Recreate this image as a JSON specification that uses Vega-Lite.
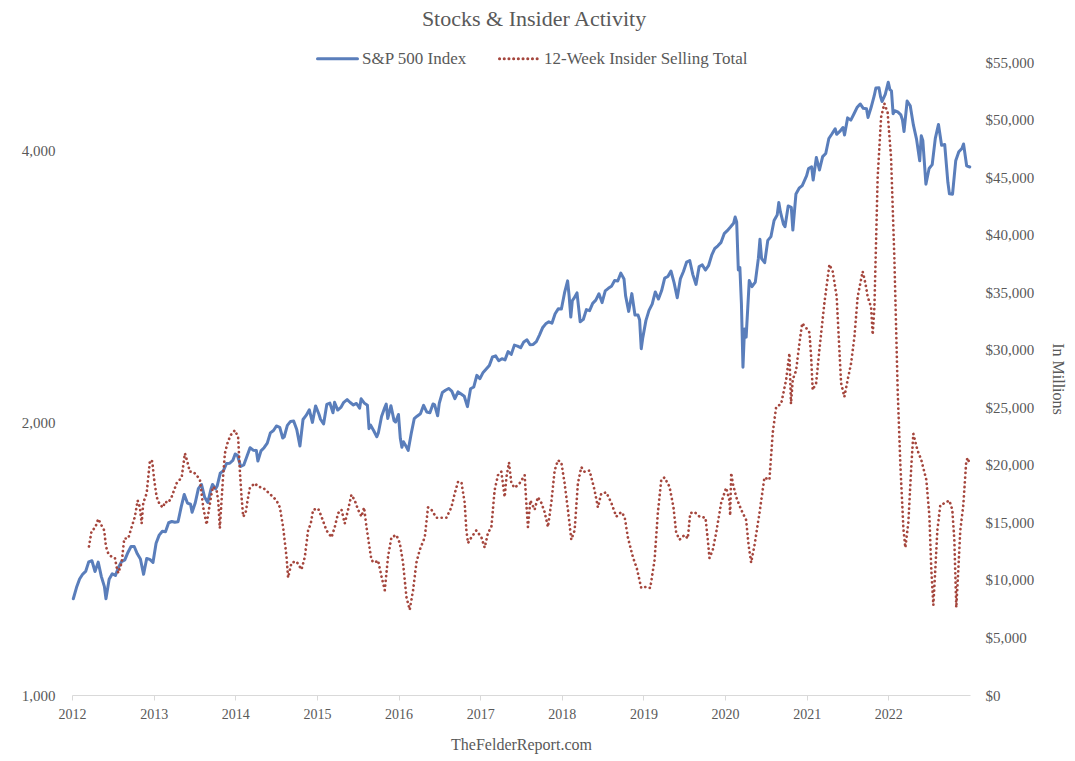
{
  "$schema": "https://vega.github.io/schema/vega-lite/v6.json",
  "width": 898,
  "height": 633,
  "autosize": {"type": "none"},
  "padding": {"left": 72, "top": 62, "right": 105, "bottom": 66},
  "background": "white",
  "config": {
    "font": "Liberation Serif",
    "view": {"stroke": null},
    "axis": {"grid": false, "labelColor": "#595959", "titleColor": "#595959", "labelFont": "Liberation Serif", "titleFont": "Liberation Serif", "titleFontWeight": "normal"}
  },
  "title": {"text": "Stocks & Insider Activity", "font": "Liberation Serif", "fontSize": 22, "fontWeight": "normal", "color": "#595959", "anchor": "middle", "frame": "group", "dx": 13, "offset": 6},
  "datasets": {
    "sp": [
      {"year":2012.016,"sp500":1278},{"year":2012.055,"sp500":1315},{"year":2012.093,"sp500":1344},{"year":2012.132,"sp500":1361},{"year":2012.167,"sp500":1370},{"year":2012.205,"sp500":1404},{"year":2012.244,"sp500":1408},{"year":2012.282,"sp500":1370},{"year":2012.321,"sp500":1403},{"year":2012.359,"sp500":1353},{"year":2012.397,"sp500":1318},{"year":2012.416,"sp500":1278},{"year":2012.455,"sp500":1343},{"year":2012.493,"sp500":1362},{"year":2012.532,"sp500":1356},{"year":2012.570,"sp500":1385},{"year":2012.608,"sp500":1405},{"year":2012.647,"sp500":1411},{"year":2012.685,"sp500":1438},{"year":2012.723,"sp500":1460},{"year":2012.762,"sp500":1460},{"year":2012.800,"sp500":1433},{"year":2012.838,"sp500":1414},{"year":2012.877,"sp500":1360},{"year":2012.915,"sp500":1416},{"year":2012.953,"sp500":1413},{"year":2012.992,"sp500":1402},
      {"year":2013.030,"sp500":1472},{"year":2013.068,"sp500":1503},{"year":2013.107,"sp500":1518},{"year":2013.145,"sp500":1516},{"year":2013.184,"sp500":1551},{"year":2013.222,"sp500":1556},{"year":2013.260,"sp500":1553},{"year":2013.299,"sp500":1555},{"year":2013.337,"sp500":1614},{"year":2013.375,"sp500":1667},{"year":2013.414,"sp500":1631},{"year":2013.452,"sp500":1626},{"year":2013.471,"sp500":1593},{"year":2013.510,"sp500":1632},{"year":2013.548,"sp500":1692},{"year":2013.586,"sp500":1710},{"year":2013.625,"sp500":1655},{"year":2013.663,"sp500":1633},{"year":2013.701,"sp500":1688},{"year":2013.721,"sp500":1710},{"year":2013.759,"sp500":1691},{"year":2013.778,"sp500":1703},{"year":2013.816,"sp500":1760},{"year":2013.855,"sp500":1771},{"year":2013.893,"sp500":1804},{"year":2013.932,"sp500":1805},{"year":2013.970,"sp500":1818},{"year":2013.999,"sp500":1848},
      {"year":2014.027,"sp500":1842},{"year":2014.066,"sp500":1790},{"year":2014.104,"sp500":1797},{"year":2014.142,"sp500":1836},{"year":2014.181,"sp500":1878},{"year":2014.219,"sp500":1866},{"year":2014.258,"sp500":1865},{"year":2014.277,"sp500":1815},{"year":2014.315,"sp500":1863},{"year":2014.353,"sp500":1878},{"year":2014.392,"sp500":1900},{"year":2014.430,"sp500":1950},{"year":2014.468,"sp500":1962},{"year":2014.504,"sp500":1985},{"year":2014.545,"sp500":1978},{"year":2014.581,"sp500":1925},{"year":2014.600,"sp500":1931},{"year":2014.638,"sp500":1988},{"year":2014.677,"sp500":2008},{"year":2014.715,"sp500":2010},{"year":2014.753,"sp500":1967},{"year":2014.792,"sp500":1886},{"year":2014.830,"sp500":2018},{"year":2014.868,"sp500":2039},{"year":2014.907,"sp500":2068},{"year":2014.945,"sp500":2003},{"year":2014.984,"sp500":2089},
      {"year":2015.025,"sp500":2045},{"year":2015.044,"sp500":2019},{"year":2015.082,"sp500":1995},{"year":2015.121,"sp500":2097},{"year":2015.159,"sp500":2104},{"year":2015.197,"sp500":2053},{"year":2015.216,"sp500":2108},{"year":2015.255,"sp500":2067},{"year":2015.293,"sp500":2081},{"year":2015.329,"sp500":2108},{"year":2015.370,"sp500":2123},{"year":2015.408,"sp500":2107},{"year":2015.447,"sp500":2094},{"year":2015.485,"sp500":2102},{"year":2015.523,"sp500":2077},{"year":2015.542,"sp500":2127},{"year":2015.581,"sp500":2104},{"year":2015.619,"sp500":2092},{"year":2015.638,"sp500":1971},{"year":2015.658,"sp500":1989},{"year":2015.696,"sp500":1961},{"year":2015.734,"sp500":1931},{"year":2015.753,"sp500":1951},{"year":2015.792,"sp500":2033},{"year":2015.830,"sp500":2079},{"year":2015.849,"sp500":2099},{"year":2015.868,"sp500":2023},{"year":2015.907,"sp500":2090},{"year":2015.945,"sp500":2012},{"year":2015.964,"sp500":2005},{"year":2015.999,"sp500":2044},
      {"year":2016.022,"sp500":1922},{"year":2016.041,"sp500":1880},{"year":2016.060,"sp500":1907},{"year":2016.099,"sp500":1880},{"year":2016.118,"sp500":1865},{"year":2016.156,"sp500":1948},{"year":2016.192,"sp500":2022},{"year":2016.227,"sp500":2035},{"year":2016.268,"sp500":2048},{"year":2016.307,"sp500":2092},{"year":2016.345,"sp500":2057},{"year":2016.384,"sp500":2053},{"year":2016.422,"sp500":2099},{"year":2016.441,"sp500":2096},{"year":2016.479,"sp500":2037},{"year":2016.499,"sp500":2103},{"year":2016.537,"sp500":2162},{"year":2016.575,"sp500":2174},{"year":2016.614,"sp500":2184},{"year":2016.652,"sp500":2169},{"year":2016.690,"sp500":2128},{"year":2016.729,"sp500":2165},{"year":2016.767,"sp500":2153},{"year":2016.805,"sp500":2141},{"year":2016.844,"sp500":2085},{"year":2016.882,"sp500":2182},{"year":2016.921,"sp500":2192},{"year":2016.959,"sp500":2258},{"year":2016.997,"sp500":2239},
      {"year":2017.036,"sp500":2275},{"year":2017.074,"sp500":2295},{"year":2017.112,"sp500":2316},{"year":2017.151,"sp500":2367},{"year":2017.189,"sp500":2373},{"year":2017.227,"sp500":2344},{"year":2017.266,"sp500":2356},{"year":2017.304,"sp500":2349},{"year":2017.342,"sp500":2399},{"year":2017.381,"sp500":2382},{"year":2017.419,"sp500":2439},{"year":2017.458,"sp500":2433},{"year":2017.496,"sp500":2423},{"year":2017.534,"sp500":2459},{"year":2017.573,"sp500":2472},{"year":2017.611,"sp500":2441},{"year":2017.649,"sp500":2443},{"year":2017.688,"sp500":2461},{"year":2017.726,"sp500":2502},{"year":2017.764,"sp500":2549},{"year":2017.803,"sp500":2575},{"year":2017.841,"sp500":2588},{"year":2017.879,"sp500":2579},{"year":2017.918,"sp500":2642},{"year":2017.956,"sp500":2675},{"year":2017.995,"sp500":2674},
      {"year":2018.033,"sp500":2786},{"year":2018.071,"sp500":2873},{"year":2018.090,"sp500":2762},{"year":2018.110,"sp500":2620},{"year":2018.129,"sp500":2732},{"year":2018.148,"sp500":2747},{"year":2018.186,"sp500":2786},{"year":2018.225,"sp500":2588},{"year":2018.263,"sp500":2604},{"year":2018.301,"sp500":2670},{"year":2018.340,"sp500":2663},{"year":2018.378,"sp500":2713},{"year":2018.416,"sp500":2735},{"year":2018.455,"sp500":2780},{"year":2018.493,"sp500":2718},{"year":2018.532,"sp500":2801},{"year":2018.570,"sp500":2819},{"year":2018.608,"sp500":2833},{"year":2018.647,"sp500":2875},{"year":2018.685,"sp500":2872},{"year":2018.723,"sp500":2930},{"year":2018.762,"sp500":2886},{"year":2018.781,"sp500":2767},{"year":2018.819,"sp500":2658},{"year":2018.858,"sp500":2781},{"year":2018.896,"sp500":2633},{"year":2018.934,"sp500":2633},{"year":2018.953,"sp500":2600},{"year":2018.973,"sp500":2417},{"year":2018.992,"sp500":2486},
      {"year":2019.030,"sp500":2596},{"year":2019.068,"sp500":2665},{"year":2019.107,"sp500":2708},{"year":2019.145,"sp500":2793},{"year":2019.184,"sp500":2743},{"year":2019.222,"sp500":2801},{"year":2019.260,"sp500":2893},{"year":2019.299,"sp500":2905},{"year":2019.337,"sp500":2946},{"year":2019.375,"sp500":2860},{"year":2019.414,"sp500":2752},{"year":2019.452,"sp500":2887},{"year":2019.490,"sp500":2942},{"year":2019.529,"sp500":3014},{"year":2019.567,"sp500":3026},{"year":2019.605,"sp500":2919},{"year":2019.644,"sp500":2847},{"year":2019.682,"sp500":2979},{"year":2019.721,"sp500":2992},{"year":2019.759,"sp500":2953},{"year":2019.797,"sp500":2986},{"year":2019.836,"sp500":3067},{"year":2019.874,"sp500":3120},{"year":2019.912,"sp500":3141},{"year":2019.951,"sp500":3169},{"year":2019.989,"sp500":3240},
      {"year":2020.027,"sp500":3265},{"year":2020.066,"sp500":3295},{"year":2020.104,"sp500":3327},{"year":2020.123,"sp500":3380},{"year":2020.142,"sp500":3338},{"year":2020.162,"sp500":2954},{"year":2020.181,"sp500":2972},{"year":2020.200,"sp500":2711},{"year":2020.219,"sp500":2305},{"year":2020.238,"sp500":2541},{"year":2020.258,"sp500":2489},{"year":2020.296,"sp500":2875},{"year":2020.329,"sp500":2831},{"year":2020.370,"sp500":2864},{"year":2020.408,"sp500":3044},{"year":2020.427,"sp500":3194},{"year":2020.447,"sp500":3041},{"year":2020.485,"sp500":3009},{"year":2020.523,"sp500":3185},{"year":2020.562,"sp500":3216},{"year":2020.600,"sp500":3351},{"year":2020.638,"sp500":3397},{"year":2020.658,"sp500":3508},{"year":2020.677,"sp500":3427},{"year":2020.715,"sp500":3319},{"year":2020.734,"sp500":3298},{"year":2020.773,"sp500":3477},{"year":2020.811,"sp500":3465},{"year":2020.830,"sp500":3270},{"year":2020.868,"sp500":3585},{"year":2020.907,"sp500":3638},{"year":2020.945,"sp500":3663},{"year":2020.999,"sp500":3756},
      {"year":2021.022,"sp500":3825},{"year":2021.060,"sp500":3841},{"year":2021.079,"sp500":3714},{"year":2021.118,"sp500":3934},{"year":2021.156,"sp500":3811},{"year":2021.195,"sp500":3943},{"year":2021.233,"sp500":3975},{"year":2021.271,"sp500":4129},{"year":2021.310,"sp500":4180},{"year":2021.348,"sp500":4233},{"year":2021.367,"sp500":4174},{"year":2021.405,"sp500":4204},{"year":2021.444,"sp500":4247},{"year":2021.463,"sp500":4166},{"year":2021.501,"sp500":4352},{"year":2021.540,"sp500":4327},{"year":2021.578,"sp500":4395},{"year":2021.616,"sp500":4468},{"year":2021.655,"sp500":4509},{"year":2021.693,"sp500":4459},{"year":2021.732,"sp500":4455},{"year":2021.751,"sp500":4357},{"year":2021.789,"sp500":4471},{"year":2021.827,"sp500":4605},{"year":2021.847,"sp500":4697},{"year":2021.885,"sp500":4698},{"year":2021.904,"sp500":4595},{"year":2021.923,"sp500":4538},{"year":2021.962,"sp500":4620},{"year":2021.999,"sp500":4766},
      {"year":2022.019,"sp500":4677},{"year":2022.038,"sp500":4662},{"year":2022.058,"sp500":4398},{"year":2022.077,"sp500":4432},{"year":2022.115,"sp500":4419},{"year":2022.153,"sp500":4385},{"year":2022.173,"sp500":4329},{"year":2022.192,"sp500":4204},{"year":2022.230,"sp500":4543},{"year":2022.268,"sp500":4488},{"year":2022.307,"sp500":4272},{"year":2022.345,"sp500":4123},{"year":2022.384,"sp500":3901},{"year":2022.403,"sp500":4158},{"year":2022.422,"sp500":4109},{"year":2022.460,"sp500":3675},{"year":2022.499,"sp500":3825},{"year":2022.537,"sp500":3863},{"year":2022.575,"sp500":4130},{"year":2022.614,"sp500":4280},{"year":2022.652,"sp500":4058},{"year":2022.690,"sp500":4067},{"year":2022.729,"sp500":3693},{"year":2022.748,"sp500":3586},{"year":2022.786,"sp500":3583},{"year":2022.825,"sp500":3901},{"year":2022.863,"sp500":3993},{"year":2022.901,"sp500":4026},{"year":2022.921,"sp500":4072},{"year":2022.959,"sp500":3852},{"year":2022.997,"sp500":3840}
    ],
    "ins": [
      {"year":2012.208,"selling":12900},{"year":2012.241,"selling":14300},{"year":2012.282,"selling":14500},{"year":2012.322,"selling":15300},{"year":2012.364,"selling":14700},{"year":2012.395,"selling":14300},{"year":2012.416,"selling":12900},{"year":2012.444,"selling":12300},{"year":2012.486,"selling":12000},{"year":2012.526,"selling":11900},{"year":2012.547,"selling":11100},{"year":2012.567,"selling":10600},{"year":2012.608,"selling":11500},{"year":2012.640,"selling":13600},{"year":2012.689,"selling":13600},{"year":2012.731,"selling":14600},{"year":2012.771,"selling":15500},{"year":2012.804,"selling":16900},{"year":2012.832,"selling":16300},{"year":2012.853,"selling":14900},{"year":2012.873,"selling":16700},{"year":2012.914,"selling":17500},{"year":2012.955,"selling":20400},{"year":2012.983,"selling":20300},
      {"year":2013.007,"selling":18700},{"year":2013.037,"selling":17200},{"year":2013.077,"selling":16500},{"year":2013.117,"selling":16300},{"year":2013.138,"selling":16800},{"year":2013.179,"selling":16700},{"year":2013.220,"selling":17200},{"year":2013.282,"selling":18400},{"year":2013.343,"selling":18900},{"year":2013.383,"selling":21000},{"year":2013.408,"selling":20400},{"year":2013.444,"selling":19400},{"year":2013.485,"selling":19400},{"year":2013.526,"selling":19100},{"year":2013.567,"selling":18700},{"year":2013.588,"selling":17500},{"year":2013.607,"selling":16300},{"year":2013.649,"selling":14800},{"year":2013.677,"selling":16100},{"year":2013.710,"selling":17500},{"year":2013.729,"selling":18100},{"year":2013.771,"selling":17800},{"year":2013.791,"selling":16900},{"year":2013.811,"selling":14500},{"year":2013.832,"selling":16900},{"year":2013.852,"selling":19100},{"year":2013.873,"selling":21000},{"year":2013.909,"selling":22000},{"year":2013.946,"selling":22600},{"year":2013.995,"selling":23000},
      {"year":2014.035,"selling":22400},{"year":2014.056,"selling":19500},{"year":2014.077,"selling":17200},{"year":2014.097,"selling":15500},{"year":2014.126,"selling":15800},{"year":2014.158,"selling":17200},{"year":2014.179,"selling":18000},{"year":2014.240,"selling":18400},{"year":2014.280,"selling":18100},{"year":2014.342,"selling":18000},{"year":2014.403,"selling":17600},{"year":2014.464,"selling":17200},{"year":2014.505,"selling":16900},{"year":2014.546,"selling":16300},{"year":2014.586,"selling":14600},{"year":2014.628,"selling":12000},{"year":2014.647,"selling":10200},{"year":2014.689,"selling":11500},{"year":2014.750,"selling":11600},{"year":2014.811,"selling":10900},{"year":2014.852,"selling":12000},{"year":2014.892,"selling":14300},{"year":2014.925,"selling":14900},{"year":2014.954,"selling":16100},
      {"year":2015.015,"selling":16200},{"year":2015.056,"selling":15500},{"year":2015.117,"selling":14300},{"year":2015.179,"selling":13700},{"year":2015.219,"selling":14600},{"year":2015.260,"selling":15800},{"year":2015.301,"selling":16100},{"year":2015.341,"selling":14900},{"year":2015.382,"selling":16100},{"year":2015.423,"selling":17400},{"year":2015.464,"selling":16900},{"year":2015.504,"selling":16100},{"year":2015.546,"selling":15500},{"year":2015.578,"selling":16300},{"year":2015.607,"selling":14600},{"year":2015.668,"selling":11700},{"year":2015.709,"selling":11500},{"year":2015.749,"selling":11700},{"year":2015.791,"selling":10300},{"year":2015.831,"selling":9100},{"year":2015.871,"selling":12000},{"year":2015.913,"selling":13700},{"year":2015.974,"selling":13900},
      {"year":2016.015,"selling":13200},{"year":2016.055,"selling":11500},{"year":2016.097,"selling":8500},{"year":2016.137,"selling":7400},{"year":2016.178,"selling":9100},{"year":2016.219,"selling":11500},{"year":2016.259,"selling":12600},{"year":2016.321,"selling":13700},{"year":2016.361,"selling":16300},{"year":2016.403,"selling":16100},{"year":2016.464,"selling":15400},{"year":2016.586,"selling":15400},{"year":2016.647,"selling":16300},{"year":2016.688,"selling":17500},{"year":2016.728,"selling":18500},{"year":2016.770,"selling":18500},{"year":2016.810,"selling":16700},{"year":2016.831,"selling":14300},{"year":2016.851,"selling":13200},{"year":2016.892,"selling":13700},{"year":2016.953,"selling":14300},
      {"year":2017.015,"selling":13700},{"year":2017.055,"selling":12800},{"year":2017.096,"selling":14100},{"year":2017.137,"selling":14600},{"year":2017.177,"selling":17800},{"year":2017.218,"selling":19100},{"year":2017.259,"selling":19400},{"year":2017.300,"selling":17200},{"year":2017.321,"selling":18900},{"year":2017.353,"selling":20200},{"year":2017.382,"selling":18400},{"year":2017.422,"selling":18000},{"year":2017.483,"selling":18400},{"year":2017.545,"selling":19100},{"year":2017.565,"selling":16700},{"year":2017.585,"selling":14600},{"year":2017.614,"selling":16900},{"year":2017.667,"selling":16100},{"year":2017.707,"selling":17200},{"year":2017.749,"selling":16700},{"year":2017.789,"selling":15900},{"year":2017.830,"selling":14600},{"year":2017.871,"selling":16700},{"year":2017.912,"selling":19500},{"year":2017.952,"selling":20400},{"year":2017.994,"selling":20200},
      {"year":2018.034,"selling":18400},{"year":2018.075,"selling":16100},{"year":2018.116,"selling":13500},{"year":2018.157,"selling":14300},{"year":2018.197,"selling":18400},{"year":2018.239,"selling":19800},{"year":2018.279,"selling":19400},{"year":2018.340,"selling":19500},{"year":2018.401,"selling":17800},{"year":2018.442,"selling":16300},{"year":2018.483,"selling":17500},{"year":2018.545,"selling":17600},{"year":2018.606,"selling":16700},{"year":2018.667,"selling":15500},{"year":2018.728,"selling":15900},{"year":2018.769,"selling":15500},{"year":2018.809,"selling":13700},{"year":2018.870,"selling":12000},{"year":2018.919,"selling":11000},{"year":2018.973,"selling":9300},
      {"year":2019.034,"selling":9400},{"year":2019.083,"selling":9300},{"year":2019.136,"selling":11700},{"year":2019.176,"selling":15800},{"year":2019.218,"selling":18700},{"year":2019.258,"selling":18900},{"year":2019.319,"selling":18100},{"year":2019.368,"selling":16300},{"year":2019.401,"selling":14100},{"year":2019.442,"selling":13500},{"year":2019.503,"selling":13900},{"year":2019.543,"selling":13600},{"year":2019.573,"selling":15800},{"year":2019.625,"selling":15900},{"year":2019.687,"selling":15500},{"year":2019.760,"selling":15400},{"year":2019.788,"selling":13500},{"year":2019.809,"selling":11900},{"year":2019.849,"selling":12600},{"year":2019.891,"selling":14100},{"year":2019.952,"selling":16700},
      {"year":2020.013,"selling":18000},{"year":2020.054,"selling":16900},{"year":2020.062,"selling":15600},{"year":2020.075,"selling":19300},{"year":2020.094,"selling":18400},{"year":2020.136,"selling":17200},{"year":2020.197,"selling":16100},{"year":2020.258,"selling":15200},{"year":2020.290,"selling":12900},{"year":2020.319,"selling":11500},{"year":2020.360,"selling":13000},{"year":2020.421,"selling":15800},{"year":2020.482,"selling":18900},{"year":2020.543,"selling":18700},{"year":2020.584,"selling":22800},{"year":2020.625,"selling":25000},{"year":2020.687,"selling":25300},{"year":2020.748,"selling":27400},{"year":2020.788,"selling":29700},{"year":2020.807,"selling":25300},{"year":2020.829,"selling":27400},{"year":2020.870,"selling":28200},{"year":2020.911,"selling":30600},{"year":2020.944,"selling":32300},{"year":2020.993,"selling":31900},
      {"year":2021.033,"selling":31500},{"year":2021.054,"selling":29400},{"year":2021.073,"selling":26500},{"year":2021.115,"selling":27100},{"year":2021.155,"selling":30000},{"year":2021.217,"selling":34100},{"year":2021.278,"selling":37400},{"year":2021.318,"selling":36800},{"year":2021.367,"selling":34600},{"year":2021.392,"selling":31100},{"year":2021.421,"selling":27100},{"year":2021.461,"selling":25900},{"year":2021.502,"selling":27400},{"year":2021.543,"selling":28800},{"year":2021.584,"selling":31100},{"year":2021.624,"selling":34600},{"year":2021.685,"selling":36800},{"year":2021.718,"selling":35800},{"year":2021.747,"selling":34600},{"year":2021.788,"selling":33700},{"year":2021.808,"selling":31300},{"year":2021.829,"selling":33700},{"year":2021.849,"selling":39300},{"year":2021.869,"selling":45000},{"year":2021.911,"selling":50200},{"year":2021.951,"selling":51400},{"year":2021.991,"selling":50600},
      {"year":2022.033,"selling":46700},{"year":2022.073,"selling":38100},{"year":2022.114,"selling":26500},{"year":2022.147,"selling":20000},{"year":2022.184,"selling":14500},{"year":2022.208,"selling":12800},{"year":2022.245,"selling":15000},{"year":2022.282,"selling":20000},{"year":2022.306,"selling":22700},{"year":2022.355,"selling":21300},{"year":2022.404,"selling":20400},{"year":2022.465,"selling":18700},{"year":2022.502,"selling":15600},{"year":2022.526,"selling":10900},{"year":2022.551,"selling":7800},{"year":2022.575,"selling":10900},{"year":2022.600,"selling":14300},{"year":2022.636,"selling":16500},{"year":2022.698,"selling":16700},{"year":2022.747,"selling":16900},{"year":2022.783,"selling":16100},{"year":2022.808,"selling":13500},{"year":2022.832,"selling":7600},{"year":2022.857,"selling":10900},{"year":2022.881,"selling":14300},{"year":2022.918,"selling":16500},{"year":2022.955,"selling":20400},{"year":2022.979,"selling":20600},{"year":2022.991,"selling":20000}
    ]
  },
  "layer": [
    {
      "data": {"name": "sp"},
      "mark": {"type": "line", "strokeWidth": 3, "strokeJoin": "round", "strokeCap": "round"},
      "encoding": {
        "x": {"field": "year", "type": "quantitative", "scale": {"domain": [2012, 2023], "nice": false, "zero": false},
          "axis": {"values": [2012,2013,2014,2015,2016,2017,2018,2019,2020,2021,2022], "format": "d", "domainColor": "#d9d9d9", "tickColor": "#d9d9d9", "tickSize": 5, "labelPadding": 7, "labelFontSize": 14, "labelAlign": "center", "title": "TheFelderReport.com", "titleFontSize": 16, "titlePadding": 15}},
        "y": {"field": "sp500", "type": "quantitative", "scale": {"type": "log", "domain": [1000, 5018], "nice": false},
          "axis": {"values": [1000, 2000, 4000], "format": ",", "domain": false, "ticks": false, "labelPadding": 17, "labelFontSize": 15, "title": null}},
        "color": {"datum": "S&P 500 Index", "type": "nominal",
          "scale": {"domain": ["S&P 500 Index", "12-Week Insider Selling Total"], "range": ["#5A7EBB", "#A5463D"]},
          "legend": {"title": null, "orient": "none", "legendX": 244, "legendY": -25, "direction": "horizontal", "symbolType": "stroke", "symbolSize": 1600, "symbolStrokeWidth": 3, "labelFont": "Liberation Serif", "labelFontSize": 17, "labelColor": "#595959", "labelOffset": 3, "labelLimit": 400, "columnPadding": 26,
            "encode": {"symbols": {"update": {"strokeDash": {"signal": "datum.value === '12-Week Insider Selling Total' ? [0.1, 4.6] : [1, 0]"}, "strokeCap": {"value": "round"}}}}}}
      }
    },
    {
      "data": {"name": "ins"},
      "mark": {"type": "line", "strokeWidth": 2.7, "strokeDash": [0.1, 4.6], "strokeCap": "round", "strokeJoin": "round"},
      "encoding": {
        "x": {"field": "year", "type": "quantitative"},
        "y": {"field": "selling", "type": "quantitative", "scale": {"domain": [0, 55000], "nice": false},
          "axis": {"orient": "right", "values": [0,5000,10000,15000,20000,25000,30000,35000,40000,45000,50000,55000], "format": "$,.0f", "domain": false, "ticks": false, "labelPadding": 15, "labelFontSize": 15, "title": "In Millions", "titleFontSize": 16, "titlePadding": 16}},
        "color": {"datum": "12-Week Insider Selling Total", "type": "nominal"}
      }
    }
  ],
  "resolve": {"scale": {"y": "independent"}}
}
